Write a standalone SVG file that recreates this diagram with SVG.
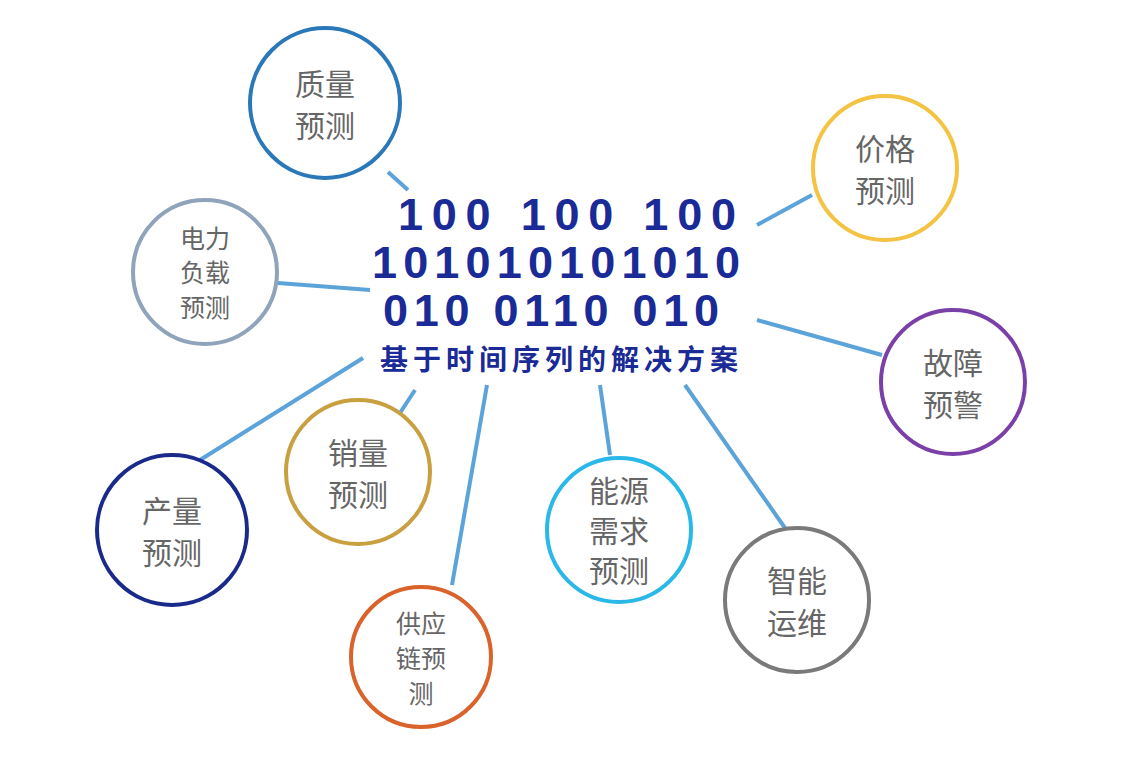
<svg xmlns="http://www.w3.org/2000/svg" width="1138" height="760" viewBox="0 0 1138 760">
<style>
.n{fill:#fff;stroke-width:4}
.t{font-family:"Noto Sans CJK SC",sans-serif;fill:#666;font-size:30px;text-anchor:middle}
.s{font-size:25px}
.b{font-family:"Liberation Sans",Arial,sans-serif;font-weight:bold;fill:#1a2a96;font-size:45px}
.c line{stroke:#5ba3d9;stroke-width:4}
</style>
<rect width="1138" height="760" fill="#fff"/>
<g class="c">
<line x1="388" y1="172" x2="408" y2="190"/>
<line x1="757" y1="225" x2="812" y2="195"/>
<line x1="278" y1="283" x2="370" y2="290"/>
<line x1="757" y1="320" x2="882" y2="355"/>
<line x1="200" y1="460" x2="363" y2="358"/>
<line x1="400" y1="413" x2="415" y2="390"/>
<line x1="487" y1="385" x2="452" y2="585"/>
<line x1="600" y1="385" x2="610" y2="455"/>
<line x1="685" y1="385" x2="785" y2="528"/>
</g>
<g id="center">
<text class="b" x="398" y="230" textLength="338">100  100  100</text>
<text class="b" x="372" y="278" textLength="368">101010101010</text>
<text class="b" x="383" y="326" textLength="336">010  0110 010</text>
<text x="380" y="370" font-family="Noto Sans CJK SC,sans-serif" font-size="28" font-weight="bold" fill="#1a2a96" textLength="358">基于时间序列的解决方案</text>
</g>
<g id="zl"><circle class="n" cx="325" cy="103" r="75" stroke="#2a78b8"/><text class="t" x="325" y="95">质量</text><text class="t" x="325" y="137">预测</text></g>
<g id="jg"><circle class="n" cx="885" cy="168" r="72" stroke="#f5c342"/><text class="t" x="885" y="160">价格</text><text class="t" x="885" y="202">预测</text></g>
<g id="dl"><circle class="n" cx="205" cy="272" r="72" stroke="#8fa3ba"/><text class="t s" x="205" y="248">电力</text><text class="t s" x="205" y="282">负载</text><text class="t s" x="205" y="317">预测</text></g>
<g id="gz"><circle class="n" cx="953" cy="382" r="72" stroke="#7b3fa8"/><text class="t" x="953" y="374">故障</text><text class="t" x="953" y="416">预警</text></g>
<g id="cl"><circle class="n" cx="172" cy="530" r="75" stroke="#1a2a8a"/><text class="t" x="172" y="522">产量</text><text class="t" x="172" y="564">预测</text></g>
<g id="xl"><circle class="n" cx="358" cy="472" r="72" stroke="#c8a040"/><text class="t" x="358" y="464">销量</text><text class="t" x="358" y="506">预测</text></g>
<g id="gy"><circle class="n" cx="421" cy="657" r="70" stroke="#d9632b"/><text class="t s" x="421" y="633">供应</text><text class="t s" x="421" y="668">链预</text><text class="t s" x="421" y="703">测</text></g>
<g id="ny"><circle class="n" cx="619" cy="530" r="72" stroke="#2ab8e8"/><text class="t" x="619" y="502">能源</text><text class="t" x="619" y="542">需求</text><text class="t" x="619" y="582">预测</text></g>
<g id="zn"><circle class="n" cx="797" cy="600" r="72" stroke="#7a7a7a"/><text class="t" x="797" y="592">智能</text><text class="t" x="797" y="634">运维</text></g>
</svg>
